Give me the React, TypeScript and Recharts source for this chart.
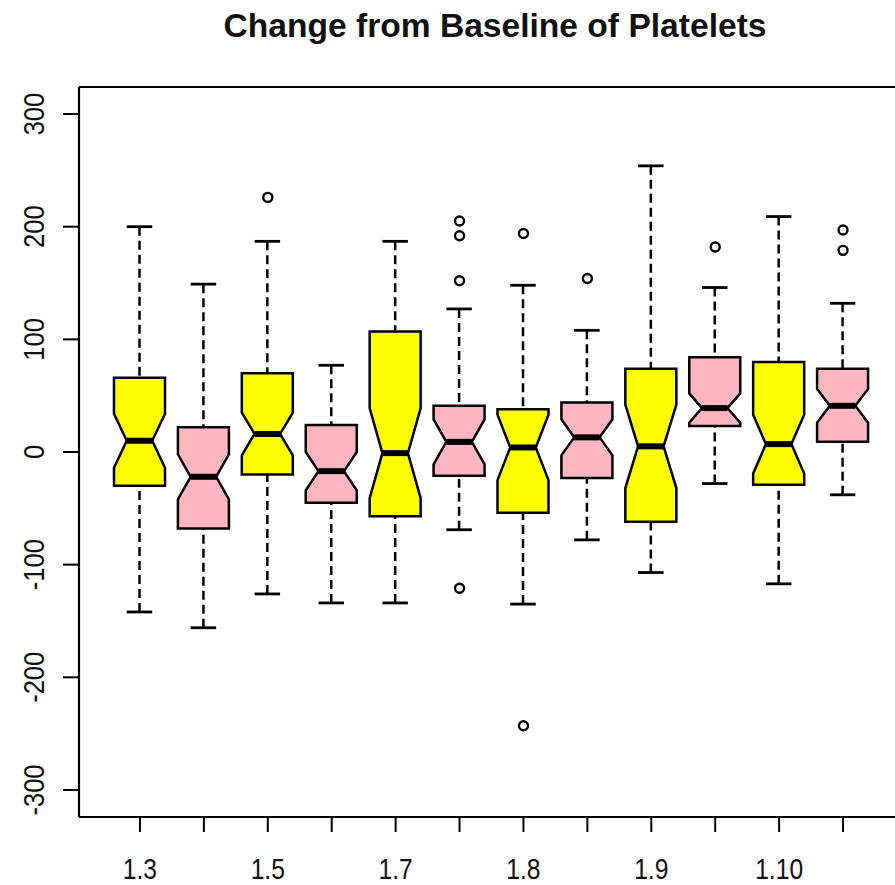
import React from 'react';
import { ComposedChart, Bar, Scatter, XAxis, YAxis } from 'recharts';

// one entry per box, left to right
const groups = ['g1', 'g2', 'g3', 'g4', 'g5', 'g6', 'g7', 'g8', 'g9', 'g10', 'g11', 'g12'];
const tickLabels = ['1.3', '', '1.5', '', '1.7', '', '1.8', '', '1.9', '', '1.10', ''];

const whiskerLow = [-142, -156, -126, -134, -134, -69, -135, -78, -107, -28, -117, -38];
const lowerHinge = [-30, -68, -20, -45, -57, -21, -54, -23, -62, 23, -29, 9];
const medians = [10, -22, 16, -17, -1, 9, 4, 13, 5, 39, 7, 41];
const upperHinge = [66, 22, 70, 24, 107, 41, 38, 44, 74, 84, 80, 74];
const whiskerHigh = [200, 149, 187, 77, 187, 127, 148, 108, 254, 146, 209, 132];
const notchHalf = [24, 20, 19, 17, 40, 20, 29, 16, 37, 13, 26, 15];
const outliers: number[][] = [
    [],
    [],
    [226],
    [],
    [],
    [205, 192, 152, -121],
    [194, -243],
    [154],
    [],
    [182],
    [],
    [197, 179],
];

const yTicks = [-300, -200, -100, 0, 100, 200, 300];
const yDomain = [-324, 324];

const boxColors = ['#FFFF00', '#FFB6C1'];
const FONT = '"Liberation Sans", Arial, Helvetica, sans-serif';

const data = groups.map((name, i) => ({
    name,
    range: [whiskerLow[i], whiskerHigh[i]],
    lo: whiskerLow[i],
    q1: lowerHinge[i],
    med: medians[i],
    q3: upperHinge[i],
    hi: whiskerHigh[i],
    notch: notchHalf[i],
    out1: outliers[i][0] ?? null,
    out2: outliers[i][1] ?? null,
    out3: outliers[i][2] ?? null,
    out4: outliers[i][3] ?? null,
}));

const outKeys = ['out1', 'out2', 'out3', 'out4'];

// notched box drawn inside the bar that spans the whisker range
const BoxShape = (props: any) => {
    const { x, y, width, height, payload } = props;
    if (!payload) return <g />;
    const top = Math.min(y, y + height);
    const bottom = Math.max(y, y + height);
    const span = payload.hi - payload.lo;
    const py = (v: number) => top + ((payload.hi - v) / span) * (bottom - top);
    const cx = x + width / 2;
    const w = width / 2;
    const cap = width / 4;
    const idx = groups.indexOf(payload.name);
    const fill = boxColors[idx % 2];

    const yHi = py(payload.hi);
    const yLo = py(payload.lo);
    const yQ1 = py(payload.q1);
    const yQ3 = py(payload.q3);
    const yMed = py(payload.med);
    const yNl = py(payload.med - payload.notch);
    const yNh = py(payload.med + payload.notch);

    const pts = [
        [cx - w, yQ1],
        [cx + w, yQ1],
        [cx + w, yNl],
        [cx + w / 2, yMed],
        [cx + w, yNh],
        [cx + w, yQ3],
        [cx - w, yQ3],
        [cx - w, yNh],
        [cx - w / 2, yMed],
        [cx - w, yNl],
    ]
        .map((p) => p.join(','))
        .join(' ');

    return (
        <g>
            <line x1={cx} x2={cx} y1={yHi} y2={yQ3} stroke='#000' strokeWidth={2.5} strokeDasharray='9 5' />
            <line x1={cx} x2={cx} y1={yLo} y2={yQ1} stroke='#000' strokeWidth={2.5} strokeDasharray='9 5' />
            <line x1={cx - cap} x2={cx + cap} y1={yHi} y2={yHi} stroke='#000' strokeWidth={2.8} />
            <line x1={cx - cap} x2={cx + cap} y1={yLo} y2={yLo} stroke='#000' strokeWidth={2.8} />
            <polygon points={pts} fill={fill} stroke='#000' strokeWidth={2.5} />
            <line x1={cx - w / 2} x2={cx + w / 2} y1={yMed} y2={yMed} stroke='#000' strokeWidth={6} />
        </g>
    );
};

const makeDot = (key: string) => (props: any) => {
    const { cx, cy, payload } = props;
    if (!payload || payload[key] == null || cx == null || cy == null) return <g />;
    return <circle cx={cx} cy={cy} r={4.5} fill='none' stroke='#000' strokeWidth={2.4} />;
};

const XTick = (props: any) => {
    const { x, y, payload } = props;
    const label = tickLabels[groups.indexOf(payload.value)];
    if (!label) return <g />;
    return (
        <text
            x={x}
            y={y + 45}
            transform={`translate(${x}, 0) scale(0.85, 1) translate(${-x}, 0)`}
            textAnchor='middle'
            fontFamily={FONT}
            fontSize={29}
            fill='#111'
        >
            {label}
        </text>
    );
};

const YTick = (props: any) => {
    const { x, y, payload } = props;
    const bx = x - 17;
    return (
        <text
            x={bx}
            y={y}
            transform={`rotate(-90, ${bx}, ${y}) translate(${bx}, 0) scale(0.88, 1) translate(${-bx}, 0)`}
            textAnchor='middle'
            fontFamily={FONT}
            fontSize={29}
            fill='#111'
        >
            {payload.value}
        </text>
    );
};

const App = (): React.ReactElement => {
    return (
        <div
            style={{
                position: 'absolute',
                left: 0,
                top: 0,
                width: 895,
                height: 885,
                overflow: 'hidden',
                background: '#fff',
            }}
        >
            <svg width={895} height={80} style={{ position: 'absolute', left: 0, top: 0 }}>
                <text
                    x={495}
                    y={37}
                    textAnchor='middle'
                    fontFamily={FONT}
                    fontWeight='bold'
                    fontSize={34}
                    textLength={543}
                    lengthAdjust='spacingAndGlyphs'
                    fill='#111'
                >
                    Change from Baseline of Platelets
                </text>
            </svg>
            <ComposedChart
                width={914}
                height={885}
                data={data}
                margin={{ top: 86, right: 10, bottom: 0, left: 0 }}
            >
                <XAxis
                    dataKey='name'
                    height={68}
                    padding={{ left: 29, right: 29 }}
                    interval={0}
                    tickSize={15}
                    tickLine={{ stroke: '#000', strokeWidth: 2 }}
                    axisLine={{ stroke: '#000', strokeWidth: 2.2 }}
                    tick={<XTick />}
                />
                <XAxis
                    xAxisId='top'
                    orientation='top'
                    dataKey='name'
                    height={1}
                    tick={false}
                    tickLine={false}
                    axisLine={{ stroke: '#000', strokeWidth: 2.2 }}
                />
                <YAxis
                    type='number'
                    domain={yDomain}
                    ticks={yTicks}
                    allowDataOverflow
                    interval={0}
                    width={79}
                    tickSize={16}
                    tickLine={{ stroke: '#000', strokeWidth: 2 }}
                    axisLine={{ stroke: '#000', strokeWidth: 2.2 }}
                    tick={<YTick />}
                />
                <Bar dataKey='range' barSize={51} shape={<BoxShape />} isAnimationActive={false} />
                {outKeys.map((k) => (
                    <Scatter key={k} dataKey={k} shape={makeDot(k)} isAnimationActive={false} />
                ))}
            </ComposedChart>
        </div>
    );
};

export default App;
